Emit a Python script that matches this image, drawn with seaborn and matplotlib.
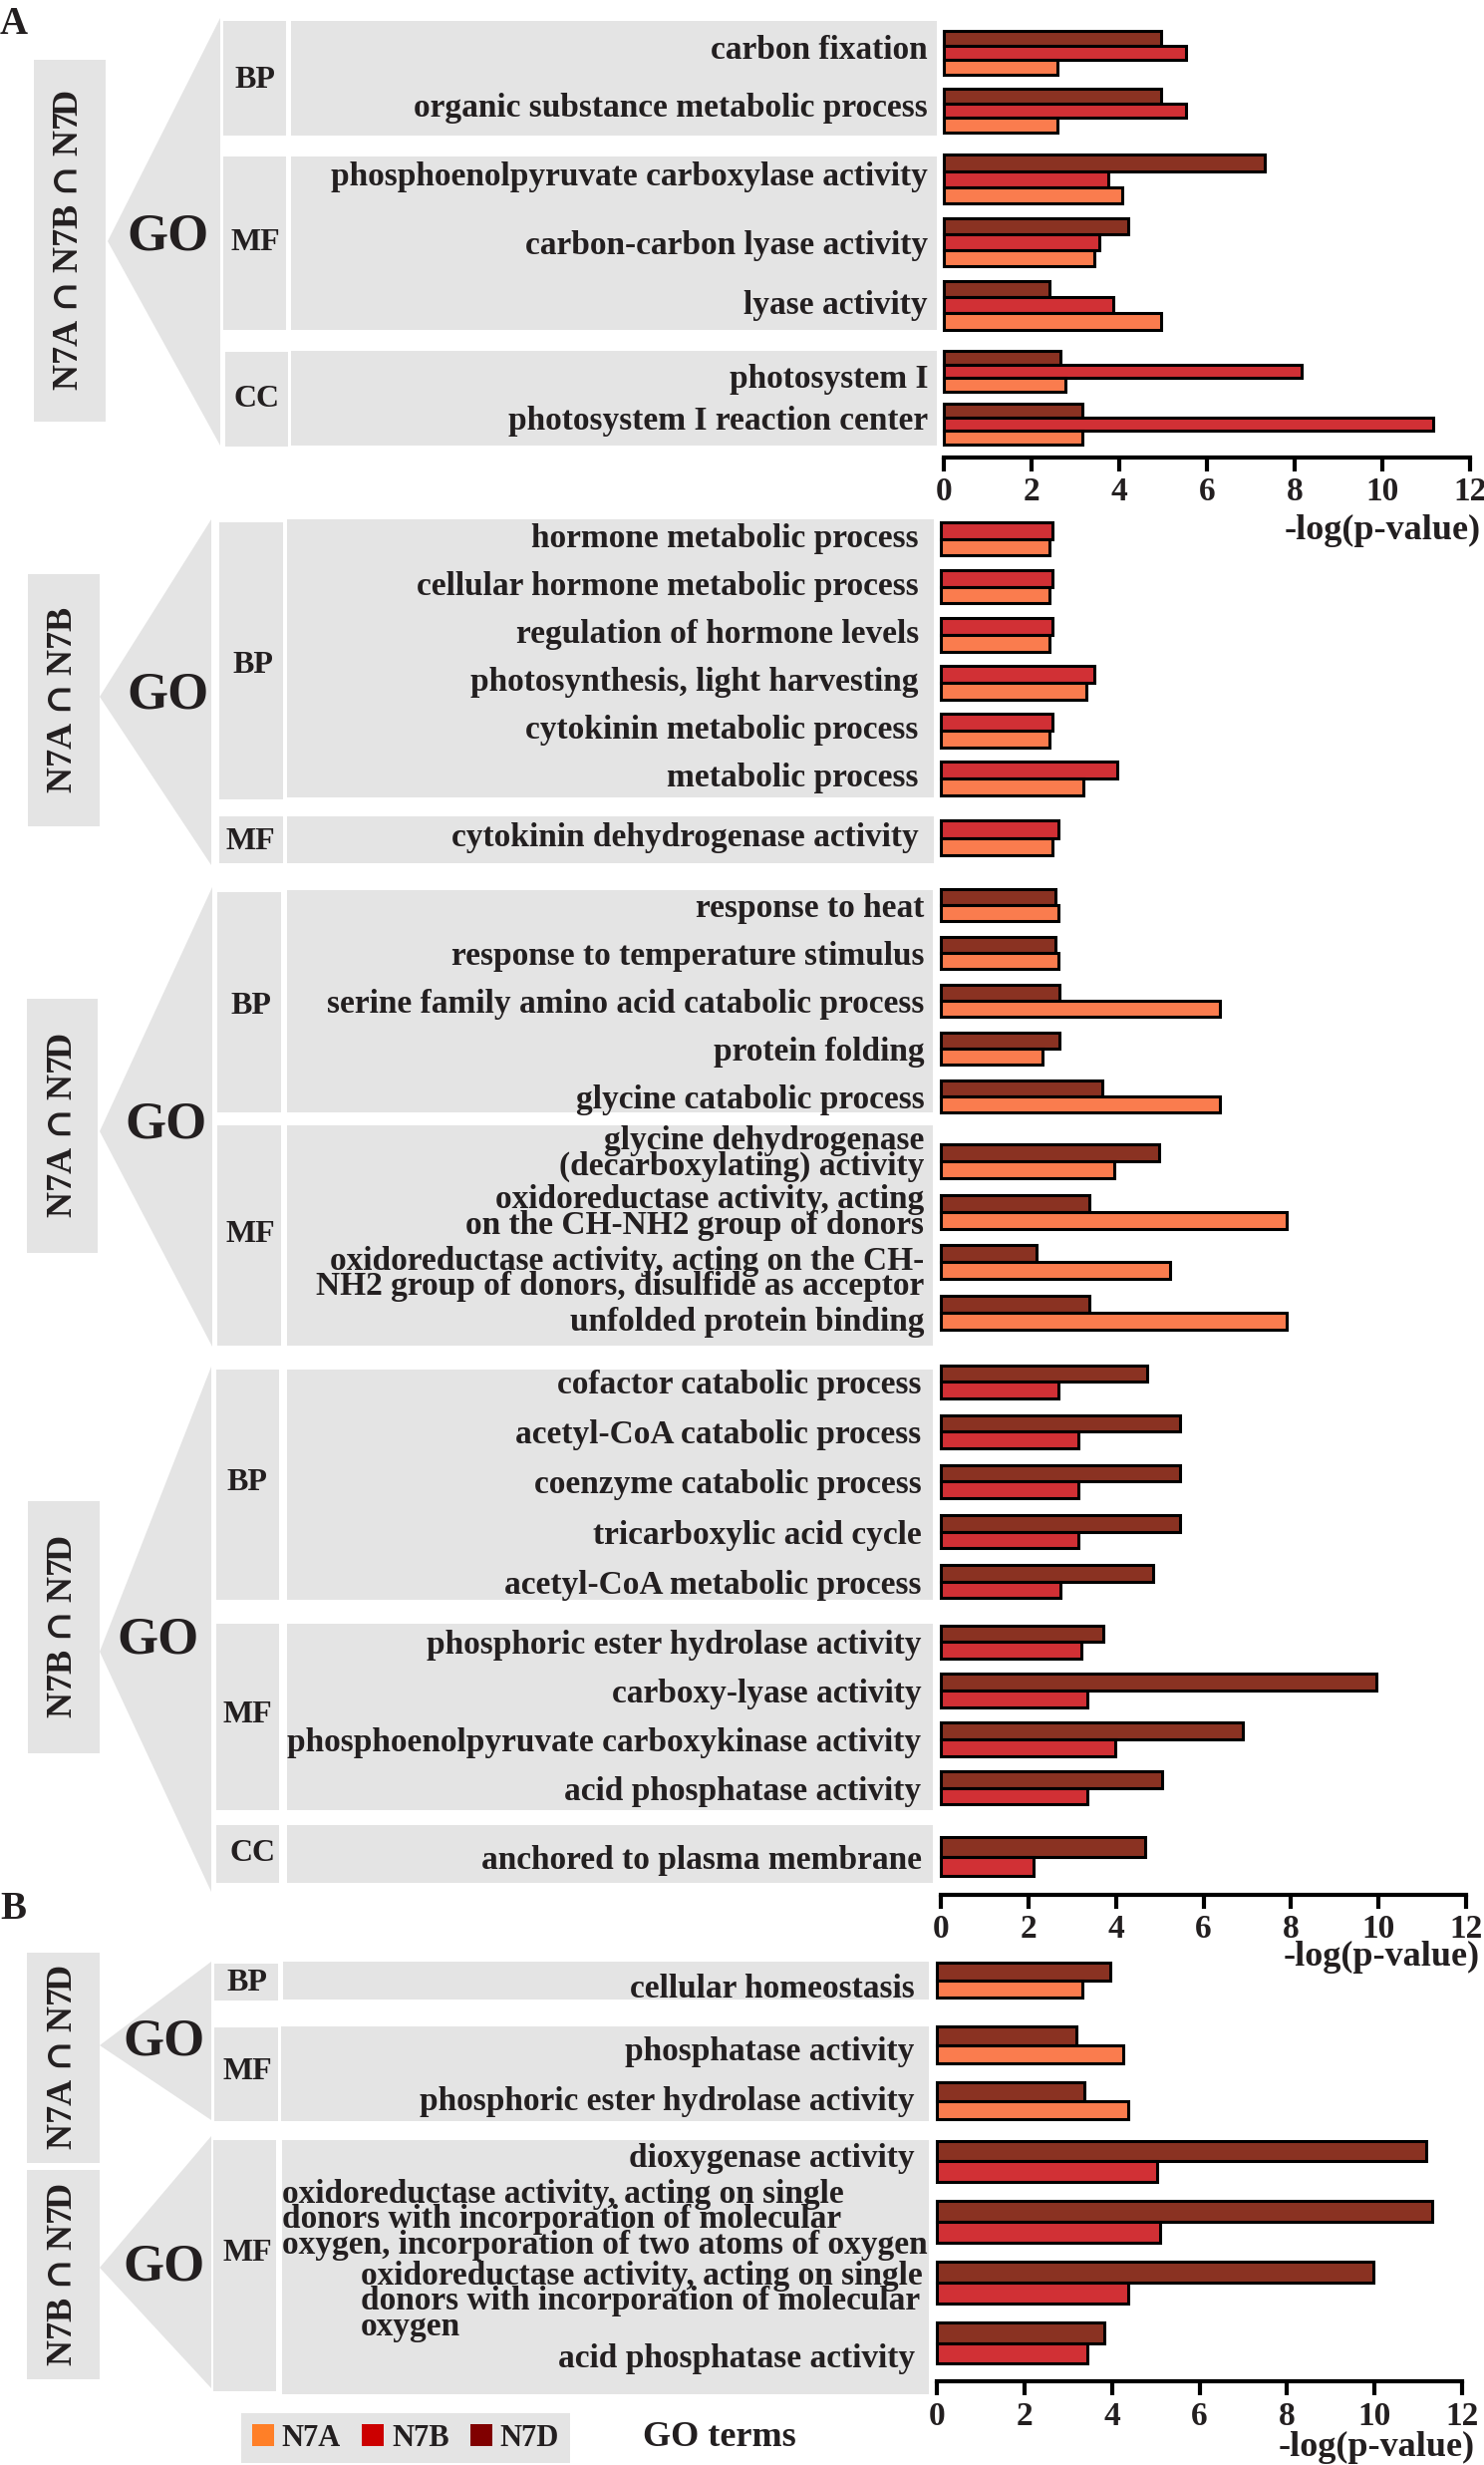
import numpy as np
import pandas as pd
import seaborn as sns
import matplotlib.pyplot as plt
from matplotlib.patches import Polygon, Rectangle, Patch
from matplotlib.transforms import ScaledTranslation

# ---------------- data ----------------
samples_all = ['N7A', 'N7B', 'N7D']

# Section A1 : N7A ∩ N7B ∩ N7D
s1_bp = ['carbon fixation', 'organic substance metabolic process']
s1_mf = ['phosphoenolpyruvate carboxylase activity', 'carbon-carbon lyase activity', 'lyase activity']
s1_cc = ['photosystem I', 'photosystem I reaction center']
s1_n7d = [4.96, 4.96, 7.31, 4.20, 2.41, 2.65, 3.16]
s1_n7b = [5.53, 5.53, 3.74, 3.55, 3.87, 8.16, 11.15]
s1_n7a = [2.59, 2.59, 4.06, 3.44, 4.96, 2.78, 3.16]

# Section A2 : N7A ∩ N7B
s2_bp = ['hormone metabolic process', 'cellular hormone metabolic process', 'regulation of hormone levels',
         'photosynthesis, light harvesting', 'cytokinin metabolic process', 'metabolic process']
s2_mf = ['cytokinin dehydrogenase activity']
s2_n7b = [2.55, 2.55, 2.55, 3.50, 2.55, 4.02, 2.68]
s2_n7a = [2.49, 2.49, 2.49, 3.32, 2.49, 3.26, 2.56]

# Section A3 : N7A ∩ N7D
s3_bp = ['response to heat', 'response to temperature stimulus', 'serine family amino acid catabolic process',
         'protein folding', 'glycine catabolic process']
s3_mf = ['glycine dehydrogenase\n(decarboxylating) activity',
         'oxidoreductase activity, acting\non the CH-NH2 group of donors',
         'oxidoreductase activity, acting on the CH-\nNH2 group of donors, disulfide as acceptor',
         'unfolded protein binding']
s3_n7d = [2.62, 2.62, 2.70, 2.70, 3.70, 4.98, 3.39, 2.18, 3.39]
s3_n7a = [2.69, 2.69, 6.37, 2.32, 6.37, 3.96, 7.89, 5.23, 7.89]

# Section A4 : N7B ∩ N7D
s4_bp = ['cofactor catabolic process', 'acetyl-CoA catabolic process', 'coenzyme catabolic process',
         'tricarboxylic acid cycle', 'acetyl-CoA metabolic process']
s4_mf = ['phosphoric ester hydrolase activity', 'carboxy-lyase activity',
         'phosphoenolpyruvate carboxykinase activity', 'acid phosphatase activity']
s4_cc = ['anchored to plasma membrane']
s4_n7d = [4.72, 5.47, 5.47, 5.47, 4.85, 3.72, 9.96, 6.90, 5.06, 4.66]
s4_n7b = [2.68, 3.14, 3.14, 3.14, 2.74, 3.22, 3.35, 3.99, 3.35, 2.12]

# Panel B, N7A ∩ N7D
b1_bp = ['cellular homeostasis']
b1_mf = ['phosphatase activity', 'phosphoric ester hydrolase activity']
b1_n7d = [3.96, 3.18, 3.38]
b1_n7a = [3.32, 4.26, 4.38]

# Panel B, N7B ∩ N7D
b2_mf = ['dioxygenase activity',
         'oxidoreductase activity, acting on single\ndonors with incorporation of molecular\noxygen, incorporation of two atoms of oxygen',
         'oxidoreductase activity, acting on single\ndonors with incorporation of molecular\noxygen',
         'acid phosphatase activity']
b2_n7d = [11.18, 11.31, 9.97, 3.82]
b2_n7b = [5.03, 5.09, 4.38, 3.44]

# ---------------- style ----------------
BAR_COLORS = {'N7A': '#FA7C4E', 'N7B': '#D13035', 'N7D': '#8A3222'}
LEG_COLORS = {'N7A': '#FF7F27', 'N7B': '#CC0000', 'N7D': '#800000'}
GRAY = '#E4E4E4'
TXT = '#231F20'

sns.set_style('white')
plt.rcParams['font.family'] = ['Liberation Serif', 'DejaVu Serif']
plt.rcParams['font.weight'] = 'bold'
plt.rcParams['text.color'] = TXT
plt.rcParams['mathtext.fontset'] = 'dejavuserif'

W, H = 1489, 2473
fig = plt.figure(figsize=(W / 100, H / 100), dpi=100)
canvas = fig.add_axes([0, 0, 1, 1])
canvas.set_xlim(0, W)
canvas.set_ylim(H, 0)
canvas.axis('off')


def box(x0, y0, x1, y1):
    canvas.add_patch(Rectangle((x0, y0), x1 - x0, y1 - y0, facecolor=GRAY, edgecolor='none'))


def tri(p):
    canvas.add_patch(Polygon(p, closed=True, facecolor=GRAY, edgecolor='none'))


def bar_group(x0, x1, top, bottom, terms, series, samples, width, pad,
              show_axis=False, offset=0, left_align=False, shifts=None):
    ax = fig.add_axes([x0 / W, 1 - bottom / H, (x1 - x0) / W, (bottom - top) / H])
    long = pd.concat([pd.DataFrame({'term': terms, 'sample': s, 'value': series[s]}) for s in samples])
    sns.barplot(data=long, x='value', y='term', hue='sample', order=terms, hue_order=samples,
                palette=BAR_COLORS, orient='h', width=width, saturation=1,
                edgecolor='black', linewidth=2.2, legend=False, ax=ax)
    for p in ax.patches:
        p.set_clip_on(False)
    ax.set_xlim(0, 12)
    ax.set_xlabel('')
    ax.set_ylabel('')
    ax.patch.set_alpha(0)
    for sp in ['top', 'right', 'left']:
        ax.spines[sp].set_visible(False)
    ax.tick_params(axis='y', length=0, pad=pad, labelsize=24, labelcolor=TXT)
    for i, lab in enumerate(ax.get_yticklabels()):
        lab.set_fontweight('bold')
        lab.set_linespacing(0.78)
        if left_align:
            lab.set_multialignment('left')
        if shifts is not None and shifts[i] != (0, 0):
            dx, dy = shifts[i]
            lab.set_transform(lab.get_transform() +
                              ScaledTranslation(dx / 100, -dy / 100, fig.dpi_scale_trans))
    if show_axis:
        ax.spines['bottom'].set_linewidth(3)
        ax.spines['bottom'].set_color('black')
        ax.spines['bottom'].set_bounds(0, 12)
        ax.spines['bottom'].set_position(('outward', offset))
        ax.set_xticks(range(0, 13, 2))
        ax.tick_params(axis='x', length=10, width=3, pad=4, labelsize=24, labelcolor=TXT,
                       color='black', bottom=True)
    else:
        ax.spines['bottom'].set_visible(False)
        ax.set_xticks([])
    return ax


def section_text(label, lx, ly, go_x, go_y, cats):
    label = label.replace(' ∩ ', r' $\cap$ ')
    canvas.text(lx, ly, label, rotation=90, ha='center', va='center', fontsize=26, fontweight='bold')
    canvas.text(go_x, go_y, 'GO', ha='center', va='center', fontsize=38, fontweight='bold')
    for name, cx, cy in cats:
        canvas.text(cx, cy, name, ha='center', va='center', fontsize=23, fontweight='bold')


sl = lambda d, a, b: {k: v[a:b] for k, v in d.items()}

# ---------------- panel A, section 1 ----------------
box(34, 60, 106, 423)
tri([(108, 242), (221, 18), (221, 447)])
box(224, 21, 287, 136); box(292, 21, 940, 136)
box(224, 157, 287, 331); box(292, 157, 940, 331)
box(226, 353, 289, 448); box(292, 352, 940, 447)
section_text('N7A ∩ N7B ∩ N7D', 70, 241, 168, 237,
             [('BP', 256, 80), ('MF', 256, 243), ('CC', 257, 400)])
ser1 = {'N7D': s1_n7d, 'N7B': s1_n7b, 'N7A': s1_n7a}
o1 = ['N7D', 'N7B', 'N7A']
bar_group(947, 1475, 24, 140, s1_bp, sl(ser1, 0, 2), o1, 0.77, 11.5, shifts=[(0, -6), (0, -6)])
bar_group(947, 1475, 148, 338, s1_mf, sl(ser1, 2, 5), o1, 0.77, 11.5, shifts=[(0, -6), (0, 0), (0, -3)])
bar_group(947, 1475, 346, 452, s1_cc, sl(ser1, 5, 7), o1, 0.77, 11.5, show_axis=True, offset=5,
          shifts=[(0, 4), (0, -7)])
canvas.text(1486, 532, '-log(p-value)', ha='right', va='center', fontsize=26, fontweight='bold')

# ---------------- section 2 ----------------
box(28, 576, 100, 829)
tri([(100, 699), (212, 521), (212, 868)])
box(220, 524, 284, 802); box(288, 521, 937, 800)
box(220, 819, 284, 866); box(288, 819, 937, 866)
section_text('N7A ∩ N7B', 64, 702, 168, 697, [('BP', 254, 667), ('MF', 251, 844)])
ser2 = {'N7B': s2_n7b, 'N7A': s2_n7a}
o2 = ['N7B', 'N7A']
bar_group(944, 1471, 516.5, 805, s2_bp, sl(ser2, 0, 6), o2, 0.7, 16,
          shifts=[(0, -4)] * 6)
bar_group(944, 1471, 816.5, 864.5, s2_mf, sl(ser2, 6, 7), o2, 0.73, 16, shifts=[(0, -3)])

# ---------------- section 3 ----------------
box(27, 1002, 98, 1257)
tri([(100, 1135), (213, 890), (213, 1351)])
box(218, 895, 282, 1116); box(288, 893, 936, 1116)
box(218, 1129, 282, 1350); box(288, 1129, 936, 1350)
section_text('N7A ∩ N7D', 63, 1129, 167, 1128, [('BP', 252, 1009), ('MF', 251, 1238)])
ser3 = {'N7D': s3_n7d, 'N7A': s3_n7a}
o3 = ['N7D', 'N7A']
bar_group(944, 1471, 884.5, 1124, s3_bp, sl(ser3, 0, 5), o3, 0.67, 12)
bar_group(944, 1471, 1140, 1342, s3_mf, sl(ser3, 5, 9), o3, 0.68, 12,
          shifts=[(0, -9), (0, 0), (0, 11), (0, 6)])

# ---------------- section 4 ----------------
box(28, 1506, 100, 1759)
tri([(100, 1657), (212, 1371), (212, 1898)])
box(217, 1374, 280, 1605); box(288, 1374, 936, 1605)
box(217, 1629, 280, 1816); box(288, 1629, 936, 1816)
box(217, 1831, 280, 1889); box(288, 1831, 936, 1889)
section_text('N7B ∩ N7D', 64, 1632, 159, 1645,
             [('BP', 248, 1487), ('MF', 248, 1720), ('CC', 254, 1859)])
ser4 = {'N7D': s4_n7d, 'N7B': s4_n7b}
o4 = ['N7D', 'N7B']
bar_group(944, 1471, 1361.5, 1611.5, s4_bp, sl(ser4, 0, 5), o4, 0.67, 14)
bar_group(944, 1471, 1623, 1818, s4_mf, sl(ser4, 5, 9), o4, 0.69, 14)
bar_group(944, 1471, 1837.5, 1887.5, s4_cc, sl(ser4, 9, 10), o4, 0.78, 14, show_axis=True, offset=9.5)
canvas.text(1485, 1963, '-log(p-value)', ha='right', va='center', fontsize=26, fontweight='bold')

# ---------------- panel B ----------------
box(27, 1959, 100, 2170)
box(27, 2177, 100, 2387)
tri([(100, 2052), (212, 1968), (212, 2127)])
tri([(100, 2275), (212, 2143), (212, 2396)])
box(215, 1970, 279, 2007); box(284, 1968, 932, 2006)
box(215, 2034, 279, 2128); box(282, 2033, 932, 2128)
box(214, 2147, 277, 2399); box(283, 2147, 932, 2402)
section_text('N7A ∩ N7D', 63, 2064, 164, 2048, [('BP', 248, 1989), ('MF', 248, 2078)])
section_text('N7B ∩ N7D', 63, 2282, 164, 2275, [('MF', 248, 2261)])
serb1 = {'N7D': b1_n7d, 'N7A': b1_n7a}
serb2 = {'N7D': b2_n7d, 'N7B': b2_n7b}
bar_group(940, 1467, 1961.5, 2011.5, b1_bp, sl(serb1, 0, 1), ['N7D', 'N7A'], 0.7, 16, shifts=[(0, 5)])
bar_group(940, 1467, 2023.5, 2135.5, b1_mf, sl(serb1, 1, 3), ['N7D', 'N7A'], 0.66, 16,
          shifts=[(0, 4), (0, -3)])
bar_group(940, 1467, 2138, 2381, b2_mf, serb2, ['N7D', 'N7B'], 0.68, 16,
          show_axis=True, offset=6, left_align=True,
          shifts=[(0, -6), (13, -3), (8, 18), (0, 12)])
canvas.text(1480, 2455, '-log(p-value)', ha='right', va='center', fontsize=26, fontweight='bold')

# panel letters
canvas.text(0, 6, 'A', ha='left', va='top', fontsize=28, fontweight='bold')
canvas.text(0, 1897, 'B', ha='left', va='top', fontsize=28, fontweight='bold')

# legend and bottom caption
handles = [Patch(facecolor=LEG_COLORS[s], edgecolor='none', label=s) for s in samples_all]
leg = canvas.legend(handles=handles, loc='center', bbox_to_anchor=(407, 2446),
                    bbox_transform=canvas.transData, ncol=3, frameon=True, fancybox=False,
                    handlelength=0.72, handleheight=0.72, handletextpad=0.25, columnspacing=0.7,
                    borderpad=0.35, borderaxespad=0,
                    prop={'family': ['Liberation Serif', 'DejaVu Serif'], 'weight': 'bold', 'size': 22})
leg.get_frame().set_facecolor(GRAY)
leg.get_frame().set_edgecolor('none')
leg.get_frame().set_alpha(1)
canvas.text(722, 2445, 'GO terms', ha='center', va='center', fontsize=26, fontweight='bold')

fig.savefig('out.png', dpi=100)
